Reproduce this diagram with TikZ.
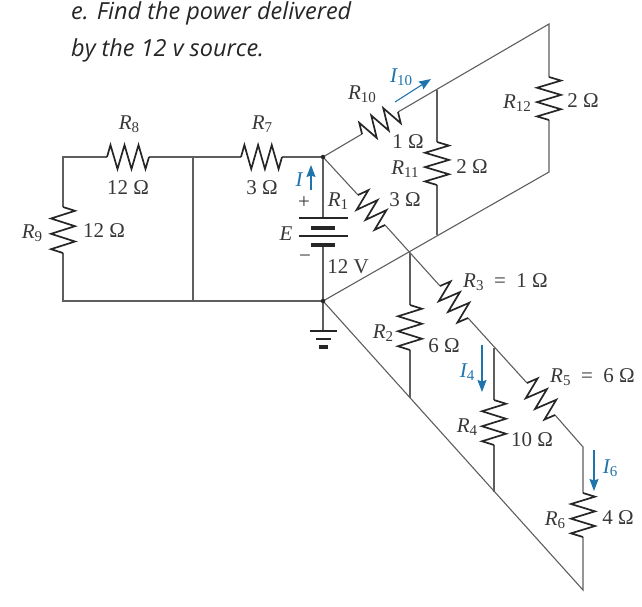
\documentclass[tikz,border=0pt]{standalone}
\usepackage{fontspec}
\setmainfont{Liberation Serif}
\newfontfamily\titlefont{Open Sans}
\usetikzlibrary{arrows.meta,calc}
\definecolor{wirec}{HTML}{5E5E5E}
\definecolor{curr}{HTML}{1F74AE}
\tikzset{
  x=1pt,y=-1pt,
  wire/.style={draw=wirec,line width=1.1pt},
  res/.style={draw=black!85,line width=1.7pt,line join=miter},
  lab/.style={font=\fontsize{21}{21}\selectfont,text=black!78,inner sep=0pt},
  curlab/.style={font=\fontsize{21}{21}\selectfont\itshape,text=curr,inner sep=0pt},
  cur/.style={draw=curr,line width=1.1pt,-{Stealth[inset=1.5pt,length=12pt,width=9pt]}},
  title/.style={font=\fontsize{23.5}{23.5}\selectfont\titlefont\itshape,text=black!85,inner sep=0pt,anchor=west},
  dotn/.style={circle,fill=black!85,inner sep=0pt,minimum size=4.5pt},
  plate/.style={draw=black!85,line width=1.5pt},
  thick plate/.style={draw=black!85,line width=4.5pt}
}
\newcommand{\lowsub}[1]{\raisebox{-3.5pt}{\fontsize{15}{15}\selectfont\upshape #1}}
\newcommand{\rlab}[1]{\textit{R}\lowsub{#1}}
\newcommand{\zig}[3]{%
  \draw[res] (#1) -- ($(#1)!.083!(#2)!#3!90:(#2)$) -- ($(#1)!.25!(#2)!#3!-90:(#2)$)
   -- ($(#1)!.4167!(#2)!#3!90:(#2)$) -- ($(#1)!.5833!(#2)!#3!-90:(#2)$)
   -- ($(#1)!.75!(#2)!#3!90:(#2)$) -- ($(#1)!.9167!(#2)!#3!-90:(#2)$) -- (#2);}
\begin{document}
\begin{tikzpicture}
\useasboundingbox (0,0) rectangle (642,606);
\node[title] (t1) at (71,13) {e. Find the power delivered};
\node[title] (t2) at (71,50) {by the 12 v source.};

\coordinate (A) at (323,157);
\coordinate (B) at (323,301);
\coordinate (LT) at (63,157);
\coordinate (LB) at (63,301);
\coordinate (MT) at (193,157);
\coordinate (MB) at (193,301);
\coordinate (C) at (410,253);
\coordinate (D) at (437,90);
\coordinate (E) at (437,235);
\coordinate (F) at (549,24);
\coordinate (G) at (549,172);
\coordinate (H) at (494,348);
\coordinate (J) at (583,447);
\coordinate (K) at (410,398);
\coordinate (L) at (494,492);
\coordinate (M) at (583,590);
% resistor ends
\coordinate (r8a) at (107,157); \coordinate (r8b) at (149,157);
\coordinate (r7a) at (241,157); \coordinate (r7b) at (282,157);
\coordinate (r9a) at (63,207); \coordinate (r9b) at (63,253);
\coordinate (r10a) at (362,134); \coordinate (r10b) at (398,112);
\coordinate (r1a) at (358,195); \coordinate (r1b) at (385,225);
\coordinate (r3a) at (440,286); \coordinate (r3b) at (468,318);
\coordinate (r5a) at (527,383); \coordinate (r5b) at (555,415);
\coordinate (r11a) at (437,142); \coordinate (r11b) at (437,185);
\coordinate (r12a) at (549,77); \coordinate (r12b) at (549,120);
\coordinate (r2a) at (410,305); \coordinate (r2b) at (410,350);
\coordinate (r4a) at (494,400); \coordinate (r4b) at (494,445);
\coordinate (r6a) at (583,493); \coordinate (r6b) at (583,537);
% wires
\draw[wire] (r8a) -- (LT) -- (r9a);
\draw[wire] (r9b) -- (LB) -- (B);
\draw[wire] (r8b) -- (r7a);
\draw[wire] (r7b) -- (A);
\draw[wire] (MT) -- (MB);
\draw[wire] (A) -- (r10a);
\draw[wire] (r10b) -- (F) -- (r12a);
\draw[wire] (r12b) -- (G) -- (B);
\draw[wire] (D) -- (r11a);
\draw[wire] (r11b) -- (E);
\draw[wire] (A) -- (r1a);
\draw[wire] (r1b) -- (r3a);
\draw[wire] (r3b) -- (r5a);
\draw[wire] (r5b) -- (J) -- (r6a);
\draw[wire] (r6b) -- (M) -- (B);
\draw[wire] (C) -- (r2a);
\draw[wire] (r2b) -- (K);
\draw[wire] (H) -- (r4a);
\draw[wire] (r4b) -- (L);
% resistors
\zig{r8a}{r8b}{12pt}\zig{r7a}{r7b}{12pt}\zig{r9a}{r9b}{12pt}\zig{r10a}{r10b}{11pt}\zig{r1a}{r1b}{11pt}
\zig{r3a}{r3b}{11pt}\zig{r5a}{r5b}{11pt}\zig{r11a}{r11b}{12pt}\zig{r12a}{r12b}{12pt}\zig{r2a}{r2b}{12pt}
\zig{r4a}{r4b}{12pt}\zig{r6a}{r6b}{12pt}
% battery
\coordinate (p1) at (323,218);
\coordinate (p4) at (323,245);
\draw[wire] (A) -- (p1);
\draw[wire] (p4) -- (B);
\draw[plate] (299,218) -- (348,218);
\draw[thick plate] (311,228) -- (335,228);
\draw[plate] (299,236) -- (348,236);
\draw[thick plate] (311,245) -- (335,245);
% ground
\coordinate (g) at (323,330);
\draw[wire] (B) -- (g);
\draw[plate,line width=2.2pt] (310,331) -- (337,331);
\draw[plate,line width=2.2pt] (316,339) -- (331,339);
\draw[thick plate] (319,347) -- (328,347);
\node[dotn] (na) at (A) {};
\node[dotn] (nb) at (B) {};
% current arrows
\draw[cur] (395,102) -- (431,79);
\draw[cur] (311,190) -- (311,165);
\draw[cur] (482,345) -- (482,392);
\draw[cur] (594,450) -- (594,491);
% labels
\node[lab] (l8) at (129,124) {\rlab{8}};
\node[lab] (l8v) at (128,188) {12 Ω};
\node[lab] (l7) at (262,124) {\rlab{7}};
\node[lab] (l7v) at (262,188) {3 Ω};
\node[lab] (l9) at (32,233) {\rlab{9}};
\node[lab] (l9v) at (104,231) {12 Ω};
\node[lab] (l10) at (362,94) {\rlab{10}};
\node[lab] (l10v) at (408,142) {1 Ω};
\node[lab] (l11) at (405,169) {\rlab{11}};
\node[lab] (l11v) at (472,167) {2 Ω};
\node[lab] (l12) at (517,103) {\rlab{12}};
\node[lab] (l12v) at (583,101) {2 Ω};
\node[lab] (l1) at (338,201) {\rlab{1}};
\node[lab] (l1v) at (405,200) {3 Ω};
\node[lab] (l2) at (383,333) {\rlab{2}};
\node[lab] (l2v) at (444,346) {6 Ω};
\node[lab,anchor=west] (l3) at (463,282) {\rlab{3}\ \ =\ \ 1 Ω};
\node[lab] (l4) at (467,427) {\rlab{4}};
\node[lab] (l4v) at (532,440) {10 Ω};
\node[lab,anchor=west] (l5) at (550,377) {\rlab{5}\ \ =\ \ 6 Ω};
\node[lab] (l6) at (555,520) {\rlab{6}};
\node[lab] (l6v) at (618,518) {4 Ω};
\node[lab] (lE) at (286,234) {\textit{E}};
\node[lab] (lp) at (304,203) {+};
\node[lab] (lm) at (305,259) {\textminus};
\node[lab] (lv) at (348,267) {12 V};
\node[curlab] (li) at (299,180) {I};
\node[curlab] (li10) at (401,77) {I\lowsub{10}};
\node[curlab] (li4) at (467,372) {I\lowsub{4}};
\node[curlab] (li6) at (610,468) {I\lowsub{6}};
\end{tikzpicture}
\end{document}
